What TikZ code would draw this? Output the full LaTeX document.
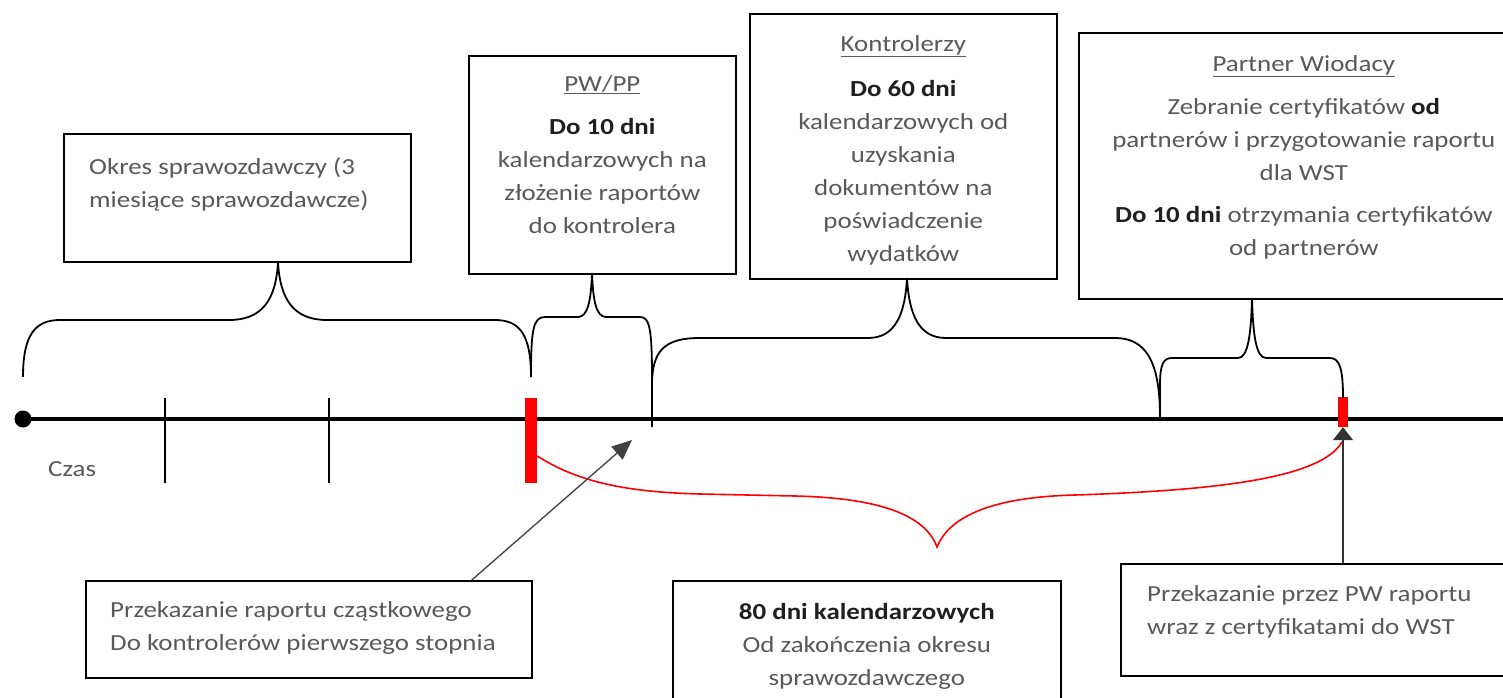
\documentclass[tikz,border=0pt]{standalone}
\usepackage{fontspec}
\setmainfont{Carlito}[FakeStretch=1.17]
\usetikzlibrary{arrows.meta,
                    positioning,
                    calc}
\tikzset{
ramka/.style = {draw=black, line width=1.6pt, inner sep=0pt, anchor=north west}
         }
\tikzset{
tekst/.style = {font=\fontsize{23}{33}\selectfont, text=black!65, inner sep=0pt, align=center, anchor=north},
klamra/.style = {draw=black, line width=1.8pt},
znacznik/.style = {fill=red, draw=none, inner sep=0pt}
         }
\newcommand{\wazne}[1]{{\color{black!88}\bfseries #1}}

\begin{document}
\begin{tikzpicture}[x=1pt,y=-1pt]
    \path[fill=white] (0,0) rectangle (1503,698);
    \clip (0,0) rectangle (1503,698);

      % OS CZASU
    \draw[line width=4.5pt] (23,419) -- (1510,419);
    \fill (23,419) circle[radius=8.5];
    \draw[line width=1.5pt] (165,398) -- (165,483);
    \draw[line width=1.5pt] (329,398) -- (329,483);
    \node[tekst, anchor=west] (czas) at (48,469) {Czas};

    \node[znacznik, minimum width=12, minimum height=85] (bar1) at (531,440.5) {};
    \node[znacznik, minimum width=10, minimum height=30] (bar2) at (1343,412) {};

      % RAMKI GORNE
    \node[ramka, minimum width=347, minimum height=128] (okres) at (63,133) {};
    \node[tekst, anchor=north west, align=left] (okrestxt) at ([shift={(26,24)}]okres.north west)
          {Okres sprawozdawczy (3\\miesiące sprawozdawcze)};

    \node[ramka, minimum width=267, minimum height=218] (pwpp) at (468,55) {};
    \node[tekst] (pwpptxt) at ([shift={(0,20)}]pwpp.north)
          {\underline{PW/PP}\\[10pt] \wazne{Do 10 dni}\\ kalendarzowych na\\ złożenie raportów\\ do kontrolera};

    \node[ramka, minimum width=307, minimum height=265] (kontr) at (749,13) {};
    \node[tekst] (kontrtxt) at ([shift={(0,22)}]kontr.north)
          {\underline{Kontrolerzy}\\[12pt] \wazne{Do 60 dni}\\ kalendarzowych od\\ uzyskania\\ dokumentów na\\ poświadczenie\\ wydatków};

    \node[ramka, minimum width=450, minimum height=266] (partner) at (1078,32) {};
    \node[tekst] (partnertxt) at ([shift={(0,23)}]partner.north)
          {\underline{Partner Wiodacy}\\[10pt] Zebranie certyfikatów \wazne{od}\\ partnerów i przygotowanie raportu\\ dla WST\\[9pt]
           \wazne{Do 10 dni} otrzymania certyfikatów\\ od partnerów};

      % KLAMRY
    \path[klamra] (23,377) .. controls (23,335) and (35,320) .. (60,320) -- (229,320)
      .. controls (262,320) and (276,300) .. (278,262) .. controls (280,300) and (294,320) .. (327,320)
      -- (495,320) .. controls (520,320) and (531,335) .. (531,377);
    \path[klamra] (531,377) .. controls (531,330) and (533,317) .. (545,317) -- (578,317)
      .. controls (588,317) and (591,300) .. (592,273) .. controls (593,300) and (596,317) .. (606,317)
      -- (640,317) .. controls (650,317) and (652,330) .. (652,380);
    \path[klamra] (652,427) -- (652,385) .. controls (652,350) and (665,338) .. (700,338) -- (868,338)
      .. controls (895,338) and (905,315) .. (907,278) .. controls (909,315) and (919,338) .. (946,338)
      -- (1115,338) .. controls (1145,338) and (1160,360) .. (1160,417);
    \path[klamra] (1160,417) -- (1160,385) .. controls (1160,365) and (1163,358) .. (1172,358) -- (1238,358)
      .. controls (1248,358) and (1251,335) .. (1252,298) .. controls (1253,335) and (1256,358) .. (1266,358)
      -- (1330,358) .. controls (1340,358) and (1343,370) .. (1343,398);

      % KLAMRA CZERWONA
    \path[draw=red, line width=1.6pt] (bar1.east |- 0,456) .. controls (575,480) and (620,492) .. (700,494)
      -- (795,496) .. controls (880,498) and (925,515) .. (937,547)
      .. controls (950,515) and (995,497) .. (1075,495) .. controls (1230,490) and (1322,476) .. (1342,442);

      % RAMKI DOLNE
    \node[ramka, minimum width=446, minimum height=97] (przek) at (85,580) {};
    \node[tekst, anchor=north west, align=left] (przektxt) at ([shift={(25,21)}]przek.north west)
          {Przekazanie raportu cząstkowego\\ Do kontrolerów pierwszego stopnia};
    \coordinate (przekcel) at (632,440);
    \draw[draw=black!75, line width=1.3pt, -{Triangle[width=17pt,length=20pt]}] ([xshift=163]przek.north) -- (przekcel);

    \node[ramka, minimum width=388, minimum height=150] (dni) at (672,580) {};
    \node[tekst] (dnitxt) at ([shift={(0,23)}]dni.north)
          {\wazne{80 dni kalendarzowych}\\ Od zakończenia okresu\\ sprawozdawczego};

    \node[ramka, minimum width=450, minimum height=112] (wst) at (1120,563) {};
    \node[tekst, anchor=north west, align=left] (wsttxt) at ([shift={(27,22)}]wst.north west)
          {Przekazanie przez PW raportu\\ wraz z certyfikatami do WST};
    \draw[draw=black!80, line width=1.5pt, -{Triangle[width=20pt,length=13pt]}] (wst.north -| bar2) -- (bar2.south);

\end{tikzpicture}
\end{document}
